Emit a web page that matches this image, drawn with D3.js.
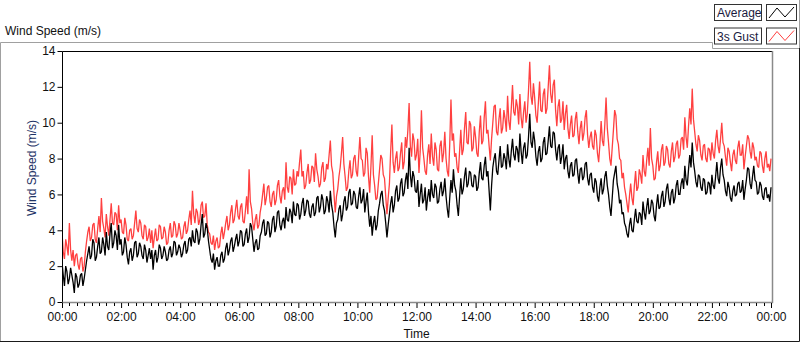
<!DOCTYPE html>
<html>
<head>
<meta charset="utf-8">
<script src="https://cdn.jsdelivr.net/npm/d3@7"></script>
<style>
  body { margin: 0; background: #fff; }
  svg { display: block; font-family: "Liberation Sans", Arial, sans-serif; }
</style>
</head>
<body>
<svg id="chart"></svg>
<script>
// 2.5-minute samples, 00:00 -> 24:00 (one row per hour)
const average = [
  2.2, 1.5, 0.9, 2.0, 1.7, 1.0, 1.3, 1.9, 1.5, 1.1, 0.5, 1.6, 1.4, 0.8, 1.0, 1.5, 1.6, 0.9, 1.3, 1.8, 2.3, 2.7, 3.1, 2.4,
  2.6, 3.5, 3.3, 2.3, 2.5, 3.1, 3.6, 2.7, 2.8, 3.6, 3.2, 2.6, 3.9, 3.1, 2.9, 3.8, 4.4, 3.0, 3.3, 4.0, 3.7, 2.9, 4.3, 3.2,
  3.5, 2.6, 2.8, 3.6, 3.2, 2.5, 2.1, 2.8, 3.0, 2.3, 2.6, 3.3, 3.4, 2.5, 2.7, 3.3, 3.1, 2.6, 2.4, 3.2, 2.9, 2.2, 2.6, 3.0,
  2.4, 2.9, 1.8, 2.6, 2.9, 2.2, 2.5, 3.2, 3.0, 2.4, 2.6, 3.1, 2.8, 2.3, 2.4, 2.9, 3.1, 2.5, 2.7, 3.4, 3.3, 2.6, 2.8, 3.2,
  3.0, 2.5, 2.7, 3.2, 3.4, 2.7, 2.9, 3.5, 3.6, 3.1, 4.0, 3.4, 3.3, 4.1, 3.9, 3.2, 3.5, 4.3, 4.9, 3.6, 3.8, 4.4, 4.1, 3.4,
  2.9, 2.4, 2.2, 2.7, 1.8, 2.3, 2.5, 2.0, 2.0, 2.6, 2.8, 2.2, 2.4, 3.0, 3.3, 2.6, 2.9, 3.4, 3.6, 2.8, 3.1, 3.5, 3.8, 3.1,
  3.4, 4.0, 3.9, 3.1, 3.2, 3.8, 4.1, 3.3, 3.6, 4.4, 4.2, 3.5, 2.8, 3.3, 3.5, 2.9, 3.0, 3.7, 3.9, 4.4, 4.6, 3.7, 3.8, 4.5,
  4.4, 3.6, 3.9, 4.6, 4.8, 3.9, 4.2, 5.0, 5.1, 4.3, 4.0, 4.5, 4.7, 4.1, 5.3, 4.6, 4.5, 5.2, 5.0, 4.4, 5.6, 4.9, 4.8, 5.5,
  5.4, 4.6, 4.9, 5.5, 5.8, 4.8, 5.1, 5.7, 5.6, 4.9, 4.7, 5.3, 5.5, 4.8, 5.0, 5.8, 5.9, 5.0, 5.3, 6.0, 5.7, 4.9, 5.1, 5.9,
  5.6, 5.0, 6.2, 5.4, 5.0, 4.2, 3.6, 4.4, 4.6, 5.2, 5.4, 4.5, 4.9, 5.6, 5.9, 5.1, 5.3, 6.1, 6.3, 5.4, 5.5, 6.2, 6.0, 5.3,
  5.2, 5.9, 6.4, 5.5, 5.7, 6.3, 5.0, 5.6, 6.1, 5.0, 4.2, 4.8, 3.7, 4.4, 4.8, 4.0, 4.3, 5.1, 5.5, 6.0, 6.2, 5.4, 5.1, 4.4,
  3.6, 4.3, 4.9, 5.5, 5.9, 5.0, 5.4, 6.2, 6.5, 5.6, 5.8, 6.6, 6.9, 5.9, 6.1, 6.8, 7.2, 6.3, 8.6, 7.1, 6.4, 7.3, 7.0, 6.2,
  6.1, 6.8, 5.3, 6.0, 6.6, 5.5, 5.7, 6.4, 5.1, 5.8, 6.3, 5.6, 6.8, 6.0, 5.8, 6.6, 6.4, 5.5, 5.6, 6.3, 6.7, 5.9, 6.2, 6.9,
  5.9, 5.2, 4.7, 5.8, 6.8, 6.1, 7.4, 6.5, 6.2, 5.4, 4.8, 5.9, 6.9, 6.0, 6.3, 7.0, 7.5, 6.4, 6.6, 7.3, 7.2, 6.5, 6.4, 7.1,
  7.0, 6.2, 6.4, 7.2, 7.8, 6.9, 6.8, 7.6, 8.1, 7.0, 7.3, 6.2, 5.1, 6.5, 7.5, 8.0, 8.3, 7.3, 7.1, 7.9, 8.7, 7.5, 7.6, 8.3,
  8.0, 7.4, 8.8, 8.0, 7.5, 8.4, 9.1, 8.2, 7.9, 8.7, 8.5, 7.8, 9.4, 8.4, 7.7, 8.6, 8.9, 8.0, 8.2, 9.2, 10.5, 8.9, 8.6, 9.5,
  9.0, 8.1, 7.6, 8.4, 8.7, 7.8, 8.0, 8.9, 9.2, 8.2, 8.3, 9.0, 9.8, 8.7, 8.6, 9.5, 9.4, 8.5, 7.9, 8.6, 8.8, 7.7, 8.1, 8.8,
  7.4, 8.0, 8.2, 7.3, 6.9, 7.6, 7.8, 7.0, 7.1, 7.9, 8.0, 7.2, 6.6, 7.4, 7.5, 6.8, 7.0, 7.7, 7.8, 6.9, 6.5, 7.1, 7.2, 6.4,
  6.1, 6.9, 6.7, 5.9, 5.6, 6.4, 6.9, 6.0, 6.3, 7.0, 7.3, 6.5, 6.0, 5.3, 4.8, 5.8, 6.8, 7.2, 7.6, 6.6, 6.2, 5.5, 5.7, 4.9,
  5.0, 4.4, 4.2, 3.8, 3.6, 4.3, 4.7, 4.0, 3.9, 4.6, 5.2, 4.5, 4.4, 5.0, 4.9, 4.3, 5.6, 5.0, 4.6, 5.3, 5.8, 4.9, 5.1, 5.7,
  5.5, 4.8, 4.5, 5.4, 6.0, 5.2, 5.3, 5.9, 6.2, 5.3, 5.6, 6.3, 6.6, 5.8, 5.4, 6.1, 6.3, 5.5, 5.8, 6.5, 6.8, 6.0, 6.0, 6.6,
  6.9, 6.3, 7.6, 6.8, 6.5, 7.4, 8.2, 7.5, 8.9, 7.8, 7.3, 6.7, 6.4, 7.1, 7.0, 6.4, 6.2, 6.9, 6.8, 6.0, 6.1, 6.7, 6.6, 6.0,
  7.1, 6.5, 6.3, 7.0, 7.8, 6.9, 6.6, 7.5, 8.0, 7.1, 6.8, 6.2, 5.9, 6.7, 6.4, 5.8, 5.6, 6.2, 6.5, 5.9, 6.0, 6.6, 6.7, 6.1,
  6.2, 6.8, 5.7, 6.3, 6.8, 7.5, 7.4, 6.6, 6.3, 7.0, 7.6, 6.8, 6.7, 6.0, 6.1, 6.7, 6.5, 5.9, 5.7, 6.3, 6.4, 5.8, 6.0, 5.6,
  6.4
];

const gust3s = [
  3.9, 2.8, 2.4, 3.5, 3.1, 2.6, 4.4, 2.9, 2.3, 2.9, 2.0, 2.6, 2.7, 2.1, 1.8, 2.4, 2.5, 1.7, 2.0, 2.8, 3.4, 3.9, 4.2, 3.4,
  3.6, 4.3, 4.4, 3.5, 3.3, 4.1, 4.8, 3.9, 5.8, 4.5, 4.1, 3.6, 4.9, 4.2, 3.7, 4.6, 5.5, 4.4, 4.3, 5.0, 4.9, 4.0, 5.4, 4.4,
  4.6, 3.9, 3.8, 4.7, 4.3, 3.5, 3.4, 4.0, 4.1, 3.5, 3.7, 4.4, 5.1, 4.1, 3.9, 4.6, 4.4, 3.7, 3.5, 4.3, 4.2, 3.4, 3.6, 4.1,
  3.3, 4.0, 3.0, 3.6, 4.1, 3.4, 3.5, 4.3, 4.2, 3.5, 3.6, 4.2, 3.9, 3.2, 3.3, 4.0, 4.4, 3.6, 3.7, 4.5, 4.3, 3.6, 3.8, 4.4,
  4.0, 3.5, 3.6, 4.2, 4.5, 3.8, 4.0, 4.6, 5.1, 4.3, 6.2, 4.9, 4.4, 5.2, 5.0, 4.3, 4.6, 5.4, 5.6, 4.7, 4.8, 5.5, 4.3, 3.9,
  3.8, 3.3, 3.2, 3.7, 2.9, 3.4, 3.6, 3.0, 3.1, 3.8, 4.2, 3.5, 3.9, 4.4, 4.8, 4.0, 4.3, 5.0, 5.4, 4.4, 4.6, 5.2, 5.7, 4.8,
  4.6, 5.3, 5.5, 4.5, 4.4, 5.1, 5.9, 4.9, 7.4, 5.6, 5.2, 4.4, 4.0, 4.6, 4.9, 4.1, 4.3, 5.0, 5.4, 6.0, 6.6, 5.4, 5.8, 6.4,
  6.5, 5.6, 5.3, 6.0, 6.2, 5.4, 5.7, 6.5, 6.8, 5.9, 5.5, 6.2, 6.4, 5.7, 7.8, 6.4, 6.1, 7.0, 6.9, 6.0, 7.4, 6.5, 6.6, 7.3,
  7.0, 7.8, 8.5, 7.0, 7.3, 6.3, 6.5, 7.2, 7.7, 6.6, 6.8, 7.6, 7.5, 6.7, 8.3, 7.4, 7.0, 6.4, 6.6, 7.5, 7.8, 6.7, 6.9, 7.7,
  7.4, 8.2, 9.0, 7.6, 7.2, 6.0, 5.0, 5.9, 6.3, 7.0, 7.5, 8.3, 9.2, 7.7, 7.0, 6.2, 6.4, 7.3, 7.9, 6.9, 7.1, 8.0, 8.2, 7.3,
  7.0, 8.1, 9.2, 8.0, 7.9, 7.0, 7.2, 8.6, 8.3, 7.0, 6.1, 7.6, 9.3, 7.1, 6.5, 5.7, 5.8, 6.6, 7.4, 8.2, 8.0, 7.1, 6.9, 5.9,
  4.9, 5.8, 6.6, 8.4, 9.9, 7.8, 7.2, 8.0, 8.4, 7.3, 7.5, 8.3, 8.9, 7.4, 7.8, 9.2, 8.6, 9.6, 11.1, 8.7, 8.1, 9.4, 9.0, 7.9,
  8.2, 9.1, 7.2, 8.4, 10.7, 8.6, 8.0, 7.3, 7.1, 8.2, 8.8, 7.7, 9.4, 8.1, 7.6, 8.9, 8.5, 7.4, 7.3, 8.7, 9.0, 7.8, 8.3, 9.5,
  8.0, 7.3, 7.0, 8.8, 11.3, 9.0, 9.4, 8.1, 8.3, 7.5, 7.2, 8.4, 9.6, 8.2, 8.5, 9.7, 10.6, 8.9, 8.8, 10.1, 9.9, 8.4, 8.6, 9.8,
  9.2, 8.3, 8.1, 9.5, 10.4, 8.8, 9.0, 10.3, 11.2, 9.4, 9.6, 8.7, 7.9, 9.1, 10.0, 10.9, 11.0, 9.5, 9.3, 10.2, 10.8, 9.4, 9.7, 10.7,
  10.2, 9.5, 11.5, 10.1, 9.6, 10.8, 12.1, 10.6, 10.4, 11.3, 10.9, 9.9, 11.6, 10.3, 9.7, 10.6, 11.2, 10.0, 10.5, 11.8, 13.4, 11.5, 11.0, 12.2,
  11.4, 10.4, 10.0, 11.1, 12.3, 10.7, 10.6, 11.6, 11.9, 10.5, 10.8, 12.0, 13.2, 11.6, 11.1, 12.1, 12.4, 10.7, 9.8, 10.9, 11.3, 10.0, 10.2, 11.2,
  9.6, 10.5, 11.0, 9.7, 9.1, 9.9, 10.4, 9.2, 9.3, 10.2, 10.6, 9.5, 8.8, 9.7, 10.1, 9.0, 9.4, 10.3, 10.7, 9.3, 8.6, 9.2, 9.5, 8.7,
  8.5, 9.6, 9.3, 8.3, 7.8, 8.8, 10.1, 9.0, 8.7, 9.9, 11.4, 9.7, 8.9, 8.0, 7.6, 8.6, 9.6, 10.7, 10.4, 9.1, 8.8, 8.0, 7.9, 6.9,
  7.2, 6.4, 6.0, 5.5, 5.0, 5.9, 6.6, 5.8, 5.4, 6.5, 7.3, 6.2, 6.4, 7.4, 7.1, 6.6, 8.2, 7.3, 7.0, 7.9, 8.6, 7.6, 9.7, 8.0,
  7.6, 6.8, 6.9, 7.8, 8.4, 7.3, 7.6, 8.5, 8.8, 7.6, 7.8, 8.7, 8.5, 7.7, 7.5, 8.4, 8.9, 7.8, 8.1, 8.8, 9.0, 8.0, 8.2, 9.1,
  9.2, 8.5, 10.3, 9.2, 8.6, 9.8, 10.8, 9.9, 11.9, 10.2, 9.5, 8.8, 8.4, 9.3, 9.0, 8.2, 7.9, 8.7, 8.8, 8.0, 7.8, 8.6, 8.5, 7.9,
  8.9, 8.3, 8.0, 9.0, 9.6, 8.7, 8.3, 9.1, 10.0, 8.9, 8.7, 8.1, 7.6, 8.6, 8.4, 7.8, 7.3, 8.2, 8.5, 7.9, 7.7, 8.6, 9.0, 8.2,
  8.2, 8.8, 7.4, 8.1, 8.7, 9.3, 9.1, 8.4, 8.0, 8.9, 8.6, 7.9, 8.1, 7.6, 7.5, 8.4, 8.3, 7.6, 7.2, 8.0, 8.4, 7.5, 7.7, 7.3,
  8.0
];

const minutes = average.map((d, i) => i * 2.5);
const timeTicks = [0, 120, 240, 360, 480, 600, 720, 840, 960, 1080, 1200, 1320, 1440];
const timeLabels = ["00:00", "02:00", "04:00", "06:00", "08:00", "10:00", "12:00",
  "14:00", "16:00", "18:00", "20:00", "22:00", "00:00"];
const speedTicks = [0, 2, 4, 6, 8, 10, 12, 14];
const seriesNames = ["Average", "3s Gust"];
const seriesColors = ["#000000", "#ff4040"];

const width = 800, height = 342;
const plot = { left: 62, right: 771, top: 51, bottom: 302 };

const svg = d3.select('#chart').attr('width', width).attr('height', height);

// outer panel frame
svg.append('path')
  .attr('d', 'M0.5,341 V42.5 H712.5 V48.5 H800')
  .attr('fill', 'none').attr('stroke', '#a0a0a0');
svg.append('path')
  .attr('d', 'M799.5,0 V48')
  .attr('fill', 'none').attr('stroke', '#a0a0a0');
svg.append('path')
  .attr('d', 'M0,341.5 H799.5 V48')
  .attr('fill', 'none').attr('stroke', '#1a1a1a');

svg.append('text')
  .attr('x', 5).attr('y', 35)
  .attr('font-size', 12).attr('fill', '#111')
  .text('Wind Speed (m/s)');

const x = d3.scaleLinear().domain([0, 1440]).range([plot.left, plot.right]);
const y = d3.scaleLinear().domain([0, 14]).range([plot.bottom, plot.top]);

// plot area borders: dark top/left, grey right/bottom
svg.append('path')
  .attr('d', `M${plot.left + 0.5},${plot.bottom} V${plot.top + 0.5} H${plot.right + 1}`)
  .attr('fill', 'none').attr('stroke', '#000');
svg.append('path')
  .attr('d', `M${plot.right + 1.5},${plot.top} V${plot.bottom + 0.5} H${plot.left}`)
  .attr('fill', 'none').attr('stroke', '#8a8a8a').attr('stroke-width', 1.5);

svg.append('clipPath').attr('id', 'clip')
  .append('rect')
  .attr('x', plot.left + 1).attr('y', plot.top + 1)
  .attr('width', plot.right - plot.left).attr('height', plot.bottom - plot.top);

const line = d3.line()
  .x((d, i) => x(minutes[i]))
  .y(d => y(d));

// gust underneath, average on top
const series = [gust3s, average];
const colors = [seriesColors[1], seriesColors[0]];
svg.append('g').attr('clip-path', 'url(#clip)')
  .selectAll('path')
  .data(series)
  .join('path')
  .attr('d', d => line(d))
  .attr('fill', 'none')
  .attr('stroke', (d, i) => colors[i])
  .attr('stroke-width', 1.3)
  .attr('stroke-linejoin', 'miter')
  .attr('stroke-miterlimit', 2);

// y axis
const yAxis = svg.append('g')
  .attr('transform', `translate(${plot.left + 0.5},0)`)
  .call(d3.axisLeft(y).tickValues(speedTicks).tickSize(5).tickSizeOuter(0).tickPadding(2));
yAxis.select('.domain').remove();
yAxis.selectAll('text').attr('font-size', 12).attr('fill', '#111').attr('font-family', '"Liberation Sans", Arial, sans-serif');
yAxis.selectAll('line').attr('stroke', '#000');

// x axis minor ticks every 15 min
const minorTicks = d3.range(0, 1441, 15).filter(m => m % 120 !== 0);
svg.append('g')
  .selectAll('line')
  .data(minorTicks)
  .join('line')
  .attr('x1', d => Math.round(x(d)) + 0.5).attr('x2', d => Math.round(x(d)) + 0.5)
  .attr('y1', plot.bottom + 1).attr('y2', plot.bottom + 4)
  .attr('stroke', '#000');

const xAxis = svg.append('g')
  .attr('transform', `translate(0,${plot.bottom + 1})`)
  .call(d3.axisBottom(x).tickValues(timeTicks)
    .tickFormat((d, i) => timeLabels[i]).tickSize(5).tickSizeOuter(0).tickPadding(4));
xAxis.select('.domain').remove();
xAxis.selectAll('text').attr('font-size', 12).attr('fill', '#111').attr('font-family', '"Liberation Sans", Arial, sans-serif');
xAxis.selectAll('line').attr('stroke', '#000');

svg.append('text')
  .attr('x', (plot.left + plot.right) / 2).attr('y', 338)
  .attr('text-anchor', 'middle').attr('font-size', 12).attr('fill', '#111')
  .text('Time');

svg.append('text')
  .attr('transform', `translate(36,168) rotate(-90)`)
  .attr('text-anchor', 'middle').attr('font-size', 12).attr('fill', '#1e3366')
  .text('Wind Speed (m/s)');

// legend
const legend = svg.append('g');
seriesNames.forEach((name, i) => {
  const top = 4 + i * 23.5;
  legend.append('rect')
    .attr('x', 714.5).attr('y', top + 0.5).attr('width', 47).attr('height', 16)
    .attr('fill', '#fff').attr('stroke', '#333');
  legend.append('text')
    .attr('x', 717).attr('y', top + 13)
    .attr('font-size', 12).attr('fill', '#1a1a40')
    .text(name);
  legend.append('rect')
    .attr('x', 766.5).attr('y', top + 0.5).attr('width', 30).attr('height', 16)
    .attr('fill', '#fff').attr('stroke', '#333');
  legend.append('path')
    .attr('d', `M769,${top + 14} L777,${top + 4} L785,${top + 13} L794,${top + 3}`)
    .attr('fill', 'none').attr('stroke', seriesColors[i]).attr('stroke-width', 1);
});
</script>
</body>
</html>
